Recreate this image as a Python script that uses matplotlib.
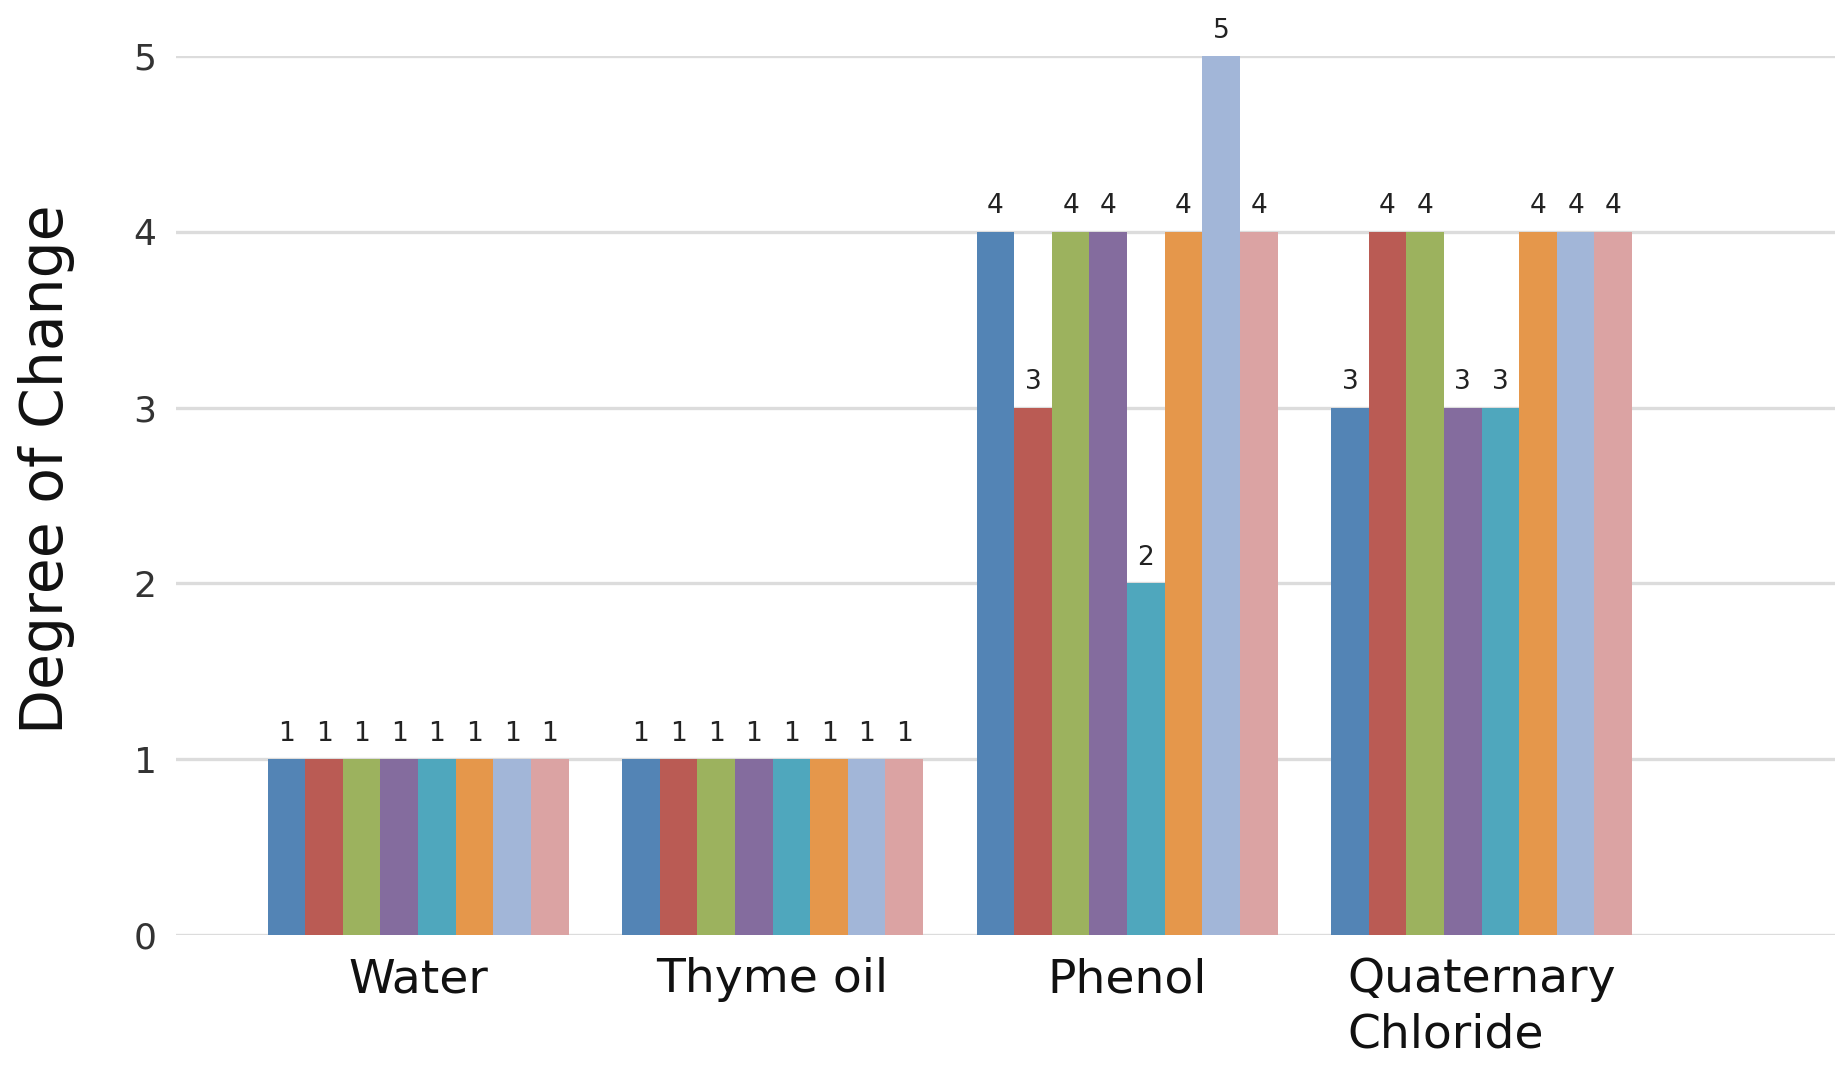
import numpy as np
import matplotlib.pyplot as plt

# --- data ---
categories = ["Water", "Thyme oil", "Phenol", "Quaternary\nChloride"]
series_names = ["S1", "S2", "S3", "S4", "S5", "S6", "S7", "S8"]
water = [1, 1, 1, 1, 1, 1, 1, 1]
thyme_oil = [1, 1, 1, 1, 1, 1, 1, 1]
phenol = [4, 3, 4, 4, 2, 4, 5, 4]
quaternary = [3, 4, 4, 3, 3, 4, 4, 4]
y_ticks = [0, 1, 2, 3, 4, 5]

colors = ["#5384B5", "#BA5B54", "#9CB25E", "#846C9E", "#4FA7BD",
          "#E5974B", "#A2B6D8", "#DBA3A3"]

values = np.array([water, thyme_oil, phenol, quaternary])  # (category, series)

plt.rcParams['font.family'] = ['DejaVu Sans']

fig = plt.figure(figsize=(18.35, 10.65), dpi=100, facecolor='white')
ax = fig.add_axes([0.0959, 0.1221, 0.9041, 0.8253])

x = np.arange(len(categories))
n = len(series_names)
group_w = 0.849
bw = group_w / n

for i in range(n):
    pos = x - group_w / 2 + bw * (i + 0.5)
    bars = ax.bar(pos, values[:, i], width=bw, color=colors[i], zorder=3,
                  label=series_names[i])
    for b, v in zip(bars, values[:, i]):
        ax.annotate(str(v), (b.get_x() + b.get_width() / 2, v),
                    xytext=(0, 9), textcoords='offset points',
                    ha='center', va='bottom', fontsize=19, color='#222222',
                    annotation_clip=False)

ax.set_xlim(-0.683, 3.997)
ax.set_ylim(0, 5)
ax.set_yticks(y_ticks)
ax.set_xticks(x)
ax.set_xticklabels(categories, fontsize=34, color='#111111',
                   multialignment='left', linespacing=1.3)
ax.tick_params(axis='y', labelsize=26, labelcolor='#333333', length=0, pad=14)
ax.tick_params(axis='x', length=0, pad=16)
ax.grid(axis='y', color='#DCDCDC', lw=2.4, zorder=0)
for s in ax.spines.values():
    s.set_visible(False)

ax.set_ylabel("Degree of Change", fontsize=42, color='#111111')
ax.yaxis.set_label_coords(-0.061, 0.53)

fig.savefig("out.png", dpi=100, facecolor='white')
